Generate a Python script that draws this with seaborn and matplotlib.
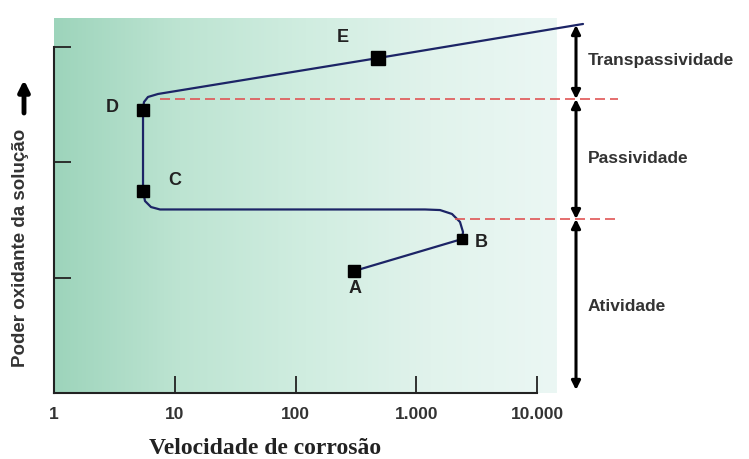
import numpy as np
import pandas as pd
import seaborn as sns
import matplotlib.pyplot as plt
from matplotlib.colors import LinearSegmentedColormap

# ---- data ----
curve_x = [305, 2392, 2439, 2303, 1978, 1573, 1182, 7.55, 6.36, 5.67, 5.46, 5.46, 5.56, 6.00, 7.27, 482, 24050]
curve_y = [1.056, 1.333, 1.394, 1.481, 1.550, 1.584, 1.589, 1.589, 1.610, 1.662, 1.749, 2.450, 2.519, 2.563, 2.589, 2.900, 3.195]

point_names = ["A", "B", "C", "D", "E"]
point_x = [305, 2392, 5.46, 5.46, 482]
point_y = [1.056, 1.333, 1.749, 2.450, 2.900]
point_size = [8.0, 7.5, 9.0, 9.0, 10.0]

label_x = [311, 3437, 10.05, 3.02, 247]
label_y = [0.909, 1.307, 1.844, 2.476, 3.08]

boundary_y = [2.545, 1.506]
boundary_x0 = [7.55, 2094]
boundary_x1 = [46900, 46900]

region_names = ["Transpassividade", "Passividade", "Atividade"]
region_top = [3.186, 2.545, 1.506]
region_bottom = [2.545, 1.506, 0.026]
region_label_y = [2.883, 2.03, 0.745]

xtick_vals = [1, 10, 100, 1000, 10000]
xtick_labels = ["1", "10", "100", "1.000", "10.000"]
ytick_vals = [1, 2, 3]

W, H = 749, 459
sns.set_theme(style="white")
plt.rcParams['font.family'] = ['Liberation Sans', 'DejaVu Sans']

fig = plt.figure(figsize=(W / 100, H / 100), dpi=100)
fig.patch.set_facecolor("white")

def fx(px):
    return px / W

def fy(py):
    return 1 - py / H

# gradient background
bg = fig.add_axes([fx(54), fy(393), fx(557) - fx(54), fy(18) - fy(393)], zorder=0)
cmap = LinearSegmentedColormap.from_list("g", ["#9dd4bb", "#bde4d2", "#d0ede0", "#e1f3ec", "#ebf7f4"])
bg.imshow(np.linspace(0, 1, 256)[None, :], aspect="auto", cmap=cmap, extent=[0, 1, 0, 1])
bg.axis("off")

ax = fig.add_axes([fx(54), fy(393), fx(620) - fx(54), fy(18) - fy(393)], zorder=1)
ax.patch.set_alpha(0)
ax.set_xscale("log")
ax.set_xlim(1, 10 ** ((620 - 54) / 120.75))
ax.set_ylim(0, (393 - 18) / 115.5)

df = pd.DataFrame({"x": curve_x, "y": curve_y})
sns.lineplot(data=df, x="x", y="y", sort=False, estimator=None, color="#1c2466", linewidth=1.6, ax=ax)

for xv, yv, s in zip(point_x, point_y, point_size):
    ax.plot([xv], [yv], marker="s", markersize=s, color="black", linestyle="none", zorder=5)

for nm, lx, ly in zip(point_names, label_x, label_y):
    ax.text(lx, ly, nm, fontsize=13, fontweight="bold", color="#222222", ha="center", va="center")

for by, x0, x1 in zip(boundary_y, boundary_x0, boundary_x1):
    ax.plot([x0, x1], [by, by], color="#e05555", linestyle=(0, (6, 3)), linewidth=1.2, clip_on=False)

arrow_x = 10 ** ((576 - 54) / 120.75)
text_x = 10 ** ((588 - 54) / 120.75)
for nm, top, bot, ly in zip(region_names, region_top, region_bottom, region_label_y):
    ax.annotate("", xy=(arrow_x, top), xytext=(arrow_x, bot),
                arrowprops=dict(arrowstyle="<|-|>", color="black", lw=2.2, mutation_scale=13,
                                shrinkA=0, shrinkB=0), annotation_clip=False)
    ax.text(text_x, ly, nm, fontsize=12.5, fontweight="bold", color="#333333", ha="left", va="center",
            clip_on=False)

# axes styling
for s in ["top", "right"]:
    ax.spines[s].set_visible(False)
for s in ["left", "bottom"]:
    ax.spines[s].set_color("#222222")
    ax.spines[s].set_linewidth(1.5)
ax.spines["bottom"].set_bounds(1, 10000)
ax.spines["left"].set_bounds(0, 3)

ax.set_xticks(xtick_vals)
ax.set_xticklabels(xtick_labels)
ax.xaxis.set_minor_locator(plt.NullLocator())
ax.set_yticks(ytick_vals)
ax.set_yticklabels([])
ax.tick_params(axis="x", which="major", bottom=True, direction="in", length=12, width=1.3,
               color="#222222", pad=10, labelsize=12.5, labelcolor="#333333")
ax.tick_params(axis="y", which="major", left=True, direction="in", length=12, width=1.3, color="#222222")
for lab in ax.get_xticklabels():
    lab.set_fontweight("bold")
ax.set_xlabel("")
ax.set_ylabel("")

fig.text(fx(265), fy(448), "Velocidade de corrosão", family=["Liberation Serif", "DejaVu Serif"],
         fontsize=17, fontweight="bold", color="#222222", ha="center", va="center")
fig.text(fx(21), fy(248), "Poder oxidante da solução", fontsize=13.5, fontweight="bold",
         color="#333333", rotation=90, ha="center", va="center")
fig.add_artist(plt.Annotation("", xy=(24, H - 80), xytext=(24, H - 113), xycoords="figure pixels",
                              textcoords="figure pixels",
                              arrowprops=dict(arrowstyle="-|>", color="black", lw=3.5, mutation_scale=16,
                                              shrinkA=0, shrinkB=0)))

fig.savefig("out.png", dpi=100)
